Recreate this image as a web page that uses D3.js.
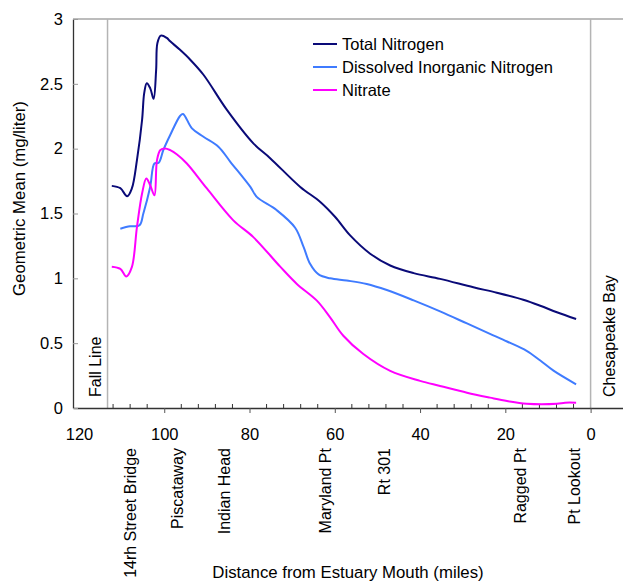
<!DOCTYPE html>
<html lang="en">
<head>
<meta charset="utf-8">
<title>Nitrogen along the estuary</title>
<script src="https://d3js.org/d3.v7.min.js"></script>
<style>
  body { margin: 0; background: #fff; }
  text { font-family: "Liberation Sans", Arial, sans-serif; fill: #000; }
</style>
</head>
<body>
<script>
// miles from estuary mouth, values in mg/liter
const tnMiles = [112.3, 110.3, 108.7, 107.6, 106.4, 105.2, 104.7, 104.1, 103.3, 102.5, 101.9, 101.6, 100.8, 99.4, 98.6, 96.3, 93.9, 90.8, 85.3, 79.1, 75.1, 68.1, 63.4, 59.9, 56.4, 51.7, 47.0, 41.5, 35.3, 27.5, 22.0, 15.8, 11.8, 7.9, 3.4];
const tnValues = [1.713, 1.695, 1.633, 1.693, 1.912, 2.221, 2.428, 2.505, 2.467, 2.384, 2.608, 2.815, 2.872, 2.854, 2.828, 2.762, 2.686, 2.57, 2.299, 2.041, 1.925, 1.705, 1.589, 1.473, 1.331, 1.19, 1.099, 1.04, 0.996, 0.931, 0.889, 0.835, 0.789, 0.738, 0.686];

const dinMiles = [110.3, 108.0, 105.8, 104.9, 103.3, 102.3, 101.3, 100.2, 98.6, 96.3, 95.6, 93.5, 90.8, 87.3, 84.5, 79.8, 78.3, 73.6, 69.3, 67.3, 65.8, 63.8, 61.1, 57.2, 52.5, 47.8, 41.5, 35.3, 29.0, 23.6, 19.6, 15.0, 11.8, 8.7, 3.4];
const dinValues = [1.383, 1.401, 1.409, 1.50, 1.705, 1.886, 1.891, 1.99, 2.105, 2.252, 2.268, 2.157, 2.092, 2.015, 1.899, 1.705, 1.628, 1.525, 1.39, 1.24, 1.112, 1.03, 1.00, 0.983, 0.957, 0.91, 0.83, 0.745, 0.652, 0.572, 0.513, 0.441, 0.366, 0.288, 0.183];

const no3Miles = [112.3, 110.3, 108.9, 107.6, 106.4, 105.2, 104.2, 103.3, 102.3, 101.7, 100.9, 99.8, 98.6, 97.0, 94.7, 90.0, 83.8, 79.1, 72.8, 68.9, 64.2, 61.1, 58.0, 53.3, 47.0, 40.0, 35.3, 29.0, 23.6, 19.6, 15.0, 7.9, 6.0, 3.4];
const no3Values = [1.09, 1.073, 1.014, 1.086, 1.395, 1.654, 1.77, 1.718, 1.64, 1.912, 1.99, 2.002, 1.989, 1.955, 1.886, 1.693, 1.447, 1.318, 1.09, 0.957, 0.828, 0.699, 0.557, 0.416, 0.286, 0.209, 0.170, 0.118, 0.080, 0.054, 0.033, 0.033, 0.041, 0.041];

const seriesNames = ["Total Nitrogen", "Dissolved Inorganic Nitrogen", "Nitrate"];
const seriesColors = ["#0a0a78", "#3f7bff", "#ff00ff"];

const xTickLabels = [120, 100, 80, 60, 40, 20, 0];
const yTickLabels = [0, 0.5, 1, 1.5, 2, 2.5, 3];

const placeNames = ["14rh Street Bridge", "Piscataway", "Indian Head", "Maryland Pt", "Rt 301", "Ragged Pt", "Pt Lookout"];
const placeMiles = [108, 96.8, 86, 62.3, 48.3, 16.4, 3.9];

const fallLineMile = 113.3;
const bayMile = 0;

const width = 623;
const height = 581;
const plotLeft = 73, plotTop = 19, plotBottom = 408;

const svg = d3.select("body").append("svg")
    .attr("width", width)
    .attr("height", height);

const x = d3.scaleLinear().domain([121.4, -7.6]).range([plotLeft, width]);
const y = d3.scaleLinear().domain([0, 3]).range([plotBottom, plotTop]);

// top frame line
svg.append("line")
    .attr("x1", plotLeft).attr("x2", width)
    .attr("y1", plotTop).attr("y2", plotTop)
    .attr("stroke", "#a6a6a6").attr("stroke-width", 1.3);

// fall line and bay markers
[fallLineMile, bayMile].forEach(m => {
    svg.append("line")
        .attr("x1", x(m)).attr("x2", x(m))
        .attr("y1", plotTop).attr("y2", plotBottom)
        .attr("stroke", "#b4b4b4").attr("stroke-width", 1.5);
});

// minor ticks (inside)
const minorTicks = d3.range(112, 3, -4).filter(d => d % 20 !== 0);
svg.selectAll(".minor")
    .data(minorTicks)
    .enter().append("line")
    .attr("x1", d => x(d)).attr("x2", d => x(d))
    .attr("y1", plotBottom - 4).attr("y2", plotBottom)
    .attr("stroke", "#333").attr("stroke-width", 1);

// bottom axis
const xAxis = svg.append("g")
    .attr("transform", "translate(0," + plotBottom + ")")
    .call(d3.axisBottom(x).tickValues(xTickLabels).tickSize(5).tickPadding(15).tickSizeOuter(0));
xAxis.select(".domain").attr("stroke", "#333").attr("stroke-width", 1.3);
xAxis.selectAll(".tick line").attr("stroke", "#555");
xAxis.selectAll(".tick").filter(d => d === 120).select("line").remove();
xAxis.selectAll("text").style("font-size", "16.5px").style("font-family", "Liberation Sans, Arial, sans-serif").attr("fill", "#000");

// left axis
const yAxis = svg.append("g")
    .attr("transform", "translate(" + plotLeft + ",0)")
    .call(d3.axisLeft(y).tickValues(yTickLabels).tickFormat(d3.format("")).tickSizeInner(-5).tickSizeOuter(0).tickPadding(10));
yAxis.select(".domain").attr("stroke", "#333").attr("stroke-width", 1.3);
yAxis.selectAll(".tick line").attr("stroke", "#999");
yAxis.selectAll("text").style("font-size", "16.5px").style("font-family", "Liberation Sans, Arial, sans-serif").attr("fill", "#000");

// lines
const line = d3.line()
    .x(d => x(d[0]))
    .y(d => y(d[1]))
    .curve(d3.curveCatmullRom.alpha(0.5));

const allSeries = [
    d3.zip(tnMiles, tnValues),
    d3.zip(dinMiles, dinValues),
    d3.zip(no3Miles, no3Values)
];

svg.selectAll(".series")
    .data(allSeries)
    .enter().append("path")
    .attr("d", line)
    .attr("fill", "none")
    .attr("stroke", (d, i) => seriesColors[i])
    .attr("stroke-width", 2);

// legend
const legend = svg.append("g").attr("transform", "translate(313,44)");
seriesNames.forEach((name, i) => {
    legend.append("line")
        .attr("x1", 0).attr("x2", 24)
        .attr("y1", i * 23).attr("y2", i * 23)
        .attr("stroke", seriesColors[i]).attr("stroke-width", 2);
    legend.append("text")
        .attr("x", 29).attr("y", i * 23)
        .attr("dy", "0.35em")
        .style("font-size", "16.5px")
        .text(name);
});

// place labels
svg.selectAll(".place")
    .data(placeNames)
    .enter().append("text")
    .attr("transform", (d, i) => "translate(" + x(placeMiles[i]) + ",448) rotate(-90)")
    .attr("dy", "0.35em")
    .attr("text-anchor", "end")
    .style("font-size", "16px")
    .text(d => d);

svg.append("text")
    .attr("transform", "translate(95.5,397) rotate(-90)")
    .attr("dy", "0.35em")
    .style("font-size", "16px")
    .text("Fall Line");

svg.append("text")
    .attr("transform", "translate(609,397) rotate(-90)")
    .attr("dy", "0.35em")
    .style("font-size", "16px")
    .text("Chesapeake Bay");

// axis titles
svg.append("text")
    .attr("transform", "translate(19,198.5) rotate(-90)")
    .attr("dy", "0.35em")
    .attr("text-anchor", "middle")
    .style("font-size", "16.8px")
    .text("Geometric Mean (mg/liter)");

svg.append("text")
    .attr("x", 348).attr("y", 578)
    .attr("text-anchor", "middle")
    .style("font-size", "16.8px")
    .text("Distance from Estuary Mouth (miles)");
</script>
</body>
</html>
